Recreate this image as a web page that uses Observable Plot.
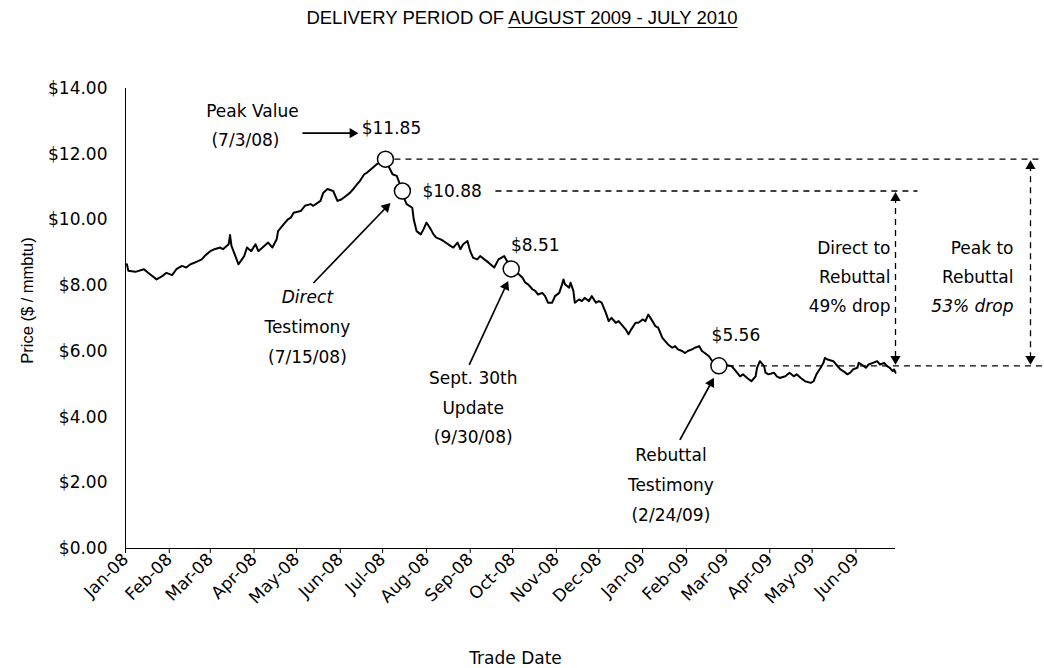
<!DOCTYPE html>
<html><head><meta charset="utf-8">
<script src="https://cdn.jsdelivr.net/npm/d3@7"></script>
<script src="https://cdn.jsdelivr.net/npm/@observablehq/plot@0.6"></script>
<style>
body{margin:0;background:#fff;width:1044px;height:668px;overflow:hidden}
#title{height:36px;box-sizing:border-box;padding-top:8px;text-align:center;font:18.5px/20px "Liberation Sans",Arial,sans-serif;color:#000}
#title u{text-decoration-thickness:1px;text-underline-offset:3px}
</style></head><body>
<div id="title">DELIVERY PERIOD OF <u>AUGUST 2009 - JULY 2010</u></div>
<div id="chart"></div>
<script>
// ---- data ----
const tradeDates = [
"2008-01-02","2008-01-03","2008-01-08","2008-01-14","2008-01-17","2008-01-23","2008-01-27","2008-01-30",
"2008-02-03","2008-02-06","2008-02-10","2008-02-13","2008-02-16","2008-02-19","2008-02-24","2008-02-26",
"2008-03-01","2008-03-04","2008-03-08","2008-03-10","2008-03-14","2008-03-15","2008-03-16","2008-03-21","2008-03-25","2008-03-27","2008-03-30",
"2008-04-02","2008-04-04","2008-04-07","2008-04-11","2008-04-14","2008-04-17","2008-04-18","2008-04-22","2008-04-25","2008-04-27","2008-04-29",
"2008-05-04","2008-05-07","2008-05-11","2008-05-13","2008-05-18","2008-05-20","2008-05-23","2008-05-27","2008-05-30",
"2008-06-02","2008-06-05","2008-06-08","2008-06-11","2008-06-13","2008-06-15","2008-06-18","2008-06-20","2008-06-24","2008-06-27",
"2008-07-01","2008-07-03","2008-07-05","2008-07-08","2008-07-11","2008-07-15","2008-07-16","2008-07-18","2008-07-22","2008-07-23","2008-07-25","2008-07-28","2008-07-30",
"2008-08-01","2008-08-04","2008-08-06","2008-08-08","2008-08-11","2008-08-13","2008-08-18","2008-08-20","2008-08-23","2008-08-25","2008-08-27","2008-08-30",
"2008-09-01","2008-09-03","2008-09-06","2008-09-08","2008-09-11","2008-09-14","2008-09-18","2008-09-21","2008-09-25","2008-09-27","2008-09-30",
"2008-10-04","2008-10-08","2008-10-10","2008-10-12","2008-10-15","2008-10-17","2008-10-19","2008-10-22","2008-10-24","2008-10-26","2008-10-29","2008-10-31",
"2008-11-03","2008-11-05","2008-11-06","2008-11-07","2008-11-10","2008-11-11","2008-11-13","2008-11-14","2008-11-17","2008-11-19","2008-11-21","2008-11-24","2008-11-26","2008-11-29",
"2008-12-01","2008-12-03","2008-12-06","2008-12-08","2008-12-10","2008-12-13","2008-12-15","2008-12-17","2008-12-20","2008-12-22","2008-12-24","2008-12-27","2008-12-29",
"2009-01-01","2009-01-03","2009-01-05","2009-01-08","2009-01-10","2009-01-12","2009-01-15","2009-01-17","2009-01-19","2009-01-22","2009-01-24","2009-01-26","2009-01-29","2009-01-31",
"2009-02-02","2009-02-05","2009-02-07","2009-02-10","2009-02-12","2009-02-14","2009-02-17","2009-02-19","2009-02-24",
"2009-03-02","2009-03-05","2009-03-07","2009-03-11","2009-03-13","2009-03-16","2009-03-19","2009-03-22","2009-03-23","2009-03-25","2009-03-28","2009-03-29","2009-03-31",
"2009-04-04","2009-04-06","2009-04-08","2009-04-12","2009-04-15","2009-04-18","2009-04-20","2009-04-23","2009-04-26","2009-04-30",
"2009-05-02","2009-05-04","2009-05-07","2009-05-09","2009-05-10","2009-05-12","2009-05-16","2009-05-18","2009-05-21","2009-05-23","2009-05-26","2009-05-28","2009-05-30",
"2009-06-02","2009-06-03","2009-06-05","2009-06-08","2009-06-10","2009-06-13","2009-06-16","2009-06-18","2009-06-21","2009-06-23","2009-06-25","2009-06-27","2009-06-28","2009-06-29"
];
const prices = [
8.65,8.45,8.42,8.50,8.39,8.19,8.29,8.39,
8.32,8.50,8.60,8.55,8.65,8.70,8.80,8.90,
9.05,9.11,9.16,9.11,9.26,9.54,9.21,8.65,8.90,9.16,9.05,
9.26,9.05,9.16,9.31,9.16,9.41,9.66,9.87,10.02,10.07,10.22,
10.27,10.43,10.48,10.43,10.58,10.83,10.94,10.88,10.58,
10.63,10.73,10.83,10.98,11.09,11.19,11.39,11.44,11.59,11.70,
11.78,11.85,11.65,11.39,11.34,10.88,10.68,10.48,10.37,10.02,9.66,9.56,9.72,
9.92,9.72,9.56,9.46,9.41,9.36,9.21,9.16,9.31,9.11,9.26,9.36,
9.05,8.85,8.80,8.90,8.80,8.70,8.55,8.80,8.90,8.75,8.51,
8.40,8.24,8.09,8.04,7.89,7.84,7.73,7.78,7.68,7.48,7.48,7.68,
7.78,8.04,8.19,8.04,7.94,8.09,7.84,7.48,7.58,7.53,7.63,7.53,7.68,7.48,
7.53,7.48,7.17,6.92,7.02,6.87,6.92,6.82,6.67,6.52,6.67,6.87,6.87,
6.97,6.92,7.12,6.92,6.77,6.72,6.41,6.31,6.21,6.11,6.16,6.06,6.01,5.95,
6.01,6.06,6.11,6.16,6.01,5.95,5.85,5.72,5.56,
5.58,5.55,5.45,5.24,5.30,5.19,5.09,5.24,5.50,5.70,5.55,5.35,5.30,
5.35,5.24,5.19,5.24,5.35,5.24,5.30,5.19,5.09,5.04,
5.09,5.30,5.50,5.65,5.80,5.75,5.70,5.60,5.45,5.40,5.30,5.35,5.45,
5.50,5.65,5.60,5.50,5.60,5.65,5.70,5.60,5.65,5.55,5.50,5.40,5.45,5.35
];
const eventDates  = ["2008-07-03","2008-07-15","2008-09-30","2009-02-24"];
const eventPrices = [11.85, 10.88, 8.51, 5.56];
const eventNames  = [["Peak Value"], ["Direct","Testimony"], ["Sept. 30th","Update"], ["Rebuttal","Testimony"]];
const eventWhen   = ["(7/3/08)","(7/15/08)","(9/30/08)","(2/24/09)"];
const dropDirect  = ["Direct to","Rebuttal","49% drop"];
const dropPeak    = ["Peak to","Rebuttal","53% drop"];
const yTicks = [0,2,4,6,8,10,12,14];
const xStart = "2008-01-01", xEnd = "2009-06-29";
const xLabel = "Trade Date", yLabel = "Price ($ / mmbtu)";

// ---- layout ----
const W = 1044, H = 632, mL = 125, mR = 149, mT = 52, mB = 120;
const FONT = "DejaVu Sans, sans-serif";
const FS = 17;

const series = tradeDates.map((d, i) => ({date: new Date(d), price: prices[i]}));
const events = eventDates.map((d, i) => ({date: new Date(d), price: eventPrices[i], label: "$" + eventPrices[i].toFixed(2)}));
const [peak, direct, sept, rebuttal] = events;
const xDomain = [new Date(xStart), new Date(xEnd)];
const xTicks = d3.utcMonth.range(xDomain[0], d3.utcDay.offset(xDomain[1], 1));

const xs = Plot.scale({x: {type: "utc", domain: xDomain, range: [mL, W - mR]}});
const ys = Plot.scale({y: {type: "linear", domain: [0, 14], range: [H - mB, mT]}});
const px = p => [xs.apply(p.date), ys.apply(p.price)];
const pt = (X, Y) => ({x: xs.invert(X), y: ys.invert(Y)});
const xEndPx = W - mR;

const txt = (p, text, dx, dy, o = {}) =>
  Plot.text([p], {x: "date", y: "price", text: () => text, dx, dy, fontSize: FS, fontFamily: FONT, fill: "black", ...o});

// filled arrowhead: triangle whose tip sits at (bx, by), pointing along (ux, uy)
const R = 3.8;
const TIP = 2 * Math.sqrt(Math.PI * R * R / (3 * Math.sqrt(3)));
const headAt = (bx, by, ux, uy) =>
  Plot.dot([pt(bx - ux * TIP, by - uy * TIP)], {x: "x", y: "y", symbol: "triangle", r: R, fill: "black", stroke: "none",
    rotate: Math.atan2(uy, ux) * 180 / Math.PI + 90});
const seg = (ax, ay, bx, by, o = {}) => {
  const a = pt(ax, ay), b = pt(bx, by);
  return Plot.link([{x1: a.x, y1: a.y, x2: b.x, y2: b.y}], {x1: "x1", y1: "y1", x2: "x2", y2: "y2", stroke: "black", ...o});
};
const arrow = (p, dx1, dy1, dx2, dy2) => {
  const [X, Y] = px(p);
  const ax = X + dx1, ay = Y + dy1, bx = X + dx2, by = Y + dy2;
  const L = Math.hypot(bx - ax, by - ay), ux = (bx - ax) / L, uy = (by - ay) / L;
  return [seg(ax, ay, bx - ux * TIP, by - uy * TIP, {strokeWidth: 1.7}), headAt(bx, by, ux, uy)];
};
const dash = (ax, ay, bx, by) => seg(ax, ay, bx, by, {strokeWidth: 1.3, strokeDasharray: "6,5"});

// bracket geometry
const [xPeak, yPeak] = px(peak), [xDirect, yDirect] = px(direct), [xReb, yReb] = px(rebuttal);
const xB1 = xEndPx, xB2 = xEndPx + 135;
const yMid = (yDirect + yReb) / 2 - 1;

const marks = [
  // axes
  Plot.axisY({ticks: yTicks, tickFormat: d => "$" + d.toFixed(2), tickSize: 0, tickPadding: 18, fontSize: FS, fontFamily: FONT, label: null}),
  Plot.axisX({ticks: xTicks, tickFormat: "%b-%y", tickRotate: -45, tickSize: 5, tickPadding: 3, fontSize: 17, fontFamily: FONT, label: null}),
  Plot.ruleX([xDomain[0]], {stroke: "black"}),
  Plot.ruleY([0], {stroke: "black"}),
  Plot.text([yLabel], {frameAnchor: "left", textAnchor: "middle", rotate: -90, dx: -98, dy: -18, fontSize: 16.5, fontFamily: "Liberation Sans, Arial, sans-serif", fill: "black"}),
  Plot.text([xLabel], {frameAnchor: "bottom", dx: 5, dy: 115, fontSize: FS, fontFamily: FONT, fill: "black"}),

  // dashed reference lines
  dash(xPeak + 9, yPeak, xEndPx + 148, yPeak),
  dash(xDirect + 93, yDirect, xEndPx + 22, yDirect),
  dash(xReb + 9, yReb, xEndPx + 148, yReb),
  dash(xB1, yDirect + 6, xB1, yReb - 6),
  dash(xB2, yPeak + 6, xB2, yReb - 6),
  headAt(xB1, yDirect + 1, 0, -1), headAt(xB1, yReb - 1, 0, 1),
  headAt(xB2, yPeak + 1, 0, -1), headAt(xB2, yReb - 1, 0, 1),

  // price line
  Plot.line(series, {x: "date", y: "price", stroke: "black", strokeWidth: 2, strokeLinejoin: "round"}),
  Plot.dot(events, {x: "date", y: "price", r: 8, fill: "white", stroke: "black", strokeWidth: 1.5}),

  // peak
  txt(peak, peak.label, 6, -31),
  txt(peak, eventNames[0][0], -133, -48),
  txt(peak, eventWhen[0], -140, -19),
  ...arrow(peak, -83, -26, -27, -26),
  // direct
  txt(direct, direct.label, 20, 1, {textAnchor: "start"}),
  txt(direct, eventNames[1][0], -95, 107, {fontStyle: "italic"}),
  txt(direct, eventNames[1][1], -95, 137),
  txt(direct, eventWhen[1], -95, 167),
  ...arrow(direct, -89, 92, -12, 12),
  // sept 30
  txt(sept, sept.label, 24, -23),
  txt(sept, eventNames[2][0], -38, 110),
  txt(sept, eventNames[2][1], -38, 140),
  txt(sept, eventWhen[2], -38, 169),
  ...arrow(sept, -42, 96, -3, 12),
  // rebuttal
  txt(rebuttal, rebuttal.label, 17, -30),
  txt(rebuttal, eventNames[3][0], -48, 90),
  txt(rebuttal, eventNames[3][1], -48, 120),
  txt(rebuttal, eventWhen[3], -48, 150),
  ...arrow(rebuttal, -39, 74, -5, 12),

  // drop labels
  ...dropDirect.map((s, i) => Plot.text([pt(xB1 - 5, yMid + (i - 1) * 29)], {x: "x", y: "y", text: () => s, textAnchor: "end", fontSize: FS, fontFamily: FONT, fill: "black"})),
  ...dropPeak.map((s, i) => Plot.text([pt(xB2 - 17, yMid + (i - 1) * 29)], {x: "x", y: "y", text: () => s, textAnchor: "end", fontSize: FS, fontFamily: FONT, fill: "black", fontStyle: i === 2 ? "italic" : "normal"}))
];

const chart = Plot.plot({
  width: W, height: H,
  marginLeft: mL, marginRight: mR, marginTop: mT, marginBottom: mB,
  x: {type: "utc", domain: xDomain},
  y: {type: "linear", domain: [0, 14]},
  style: {fontFamily: FONT, fontSize: FS + "px", color: "black", background: "white", overflow: "visible"},
  marks
});
document.getElementById("chart").appendChild(chart);
</script></body></html>
